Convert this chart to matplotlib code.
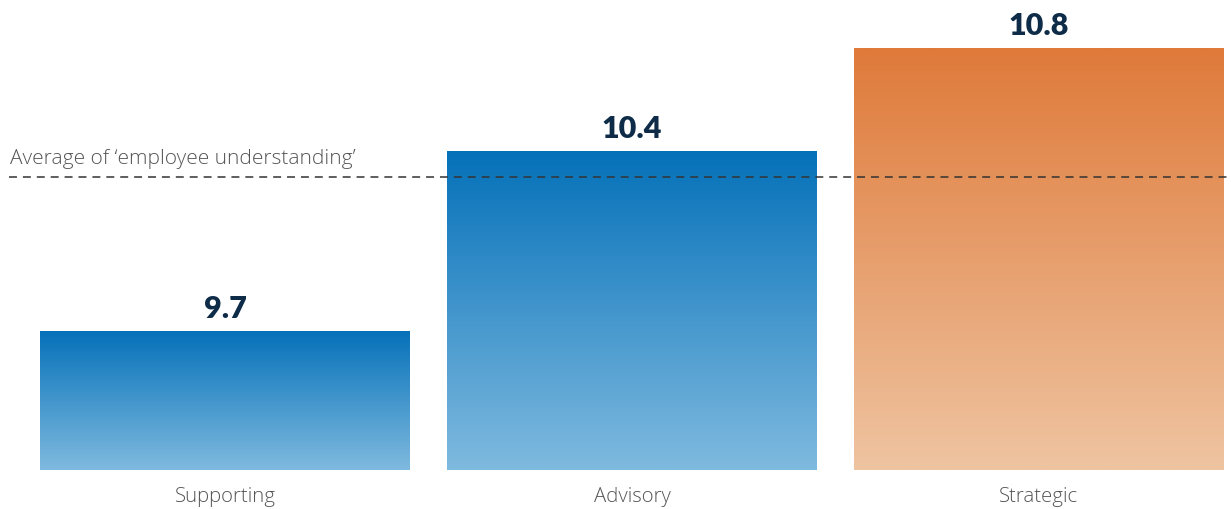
import numpy as np
import matplotlib
matplotlib.use("Agg")
import matplotlib.pyplot as plt
from matplotlib.colors import LinearSegmentedColormap

# data
categories = ["Supporting", "Advisory", "Strategic"]
scores = [9.7, 10.4, 10.8]
average_score = 10.3
average_label = "Average of \u2018employee understanding\u2019"

# gradient colours per bar (top, bottom)
blue_grad = ("#0571b9", "#7fbadf")
orange_grad = ("#df7a3a", "#efc4a1")
bar_grads = [blue_grad, blue_grad, orange_grad]

plt.rcParams['font.family'] = ['Lato', 'DejaVu Sans']
label_font = ['Open Sans', 'DejaVu Sans']

fig = plt.figure(figsize=(12.31, 5.10), dpi=100)
ax = fig.add_axes([0, 39 / 510, 1, 470 / 510])

x = np.arange(len(categories))
bars = ax.bar(x, scores, width=0.909, bottom=0, color="none", zorder=2)

ax.set_xlim(-0.553, 2.472)
ax.set_ylim(9.159, 9.159 + 470 / 257)

# paint a vertical gradient inside each bar
grad = np.linspace(0, 1, 256).reshape(-1, 1)
for bar, (top, bottom) in zip(bars, bar_grads):
    cmap = LinearSegmentedColormap.from_list("g", [top, bottom])
    x0 = bar.get_x()
    w = bar.get_width()
    y0 = ax.get_ylim()[0]
    h = bar.get_height()
    im = ax.imshow(grad, cmap=cmap, aspect="auto",
                   extent=(x0, x0 + w, y0, h), origin="upper", zorder=2)
    im.set_clip_path(bar)

# value labels above bars
for xi, v in zip(x, scores):
    ax.text(xi, v + 0.035, f"{v}", ha="center", va="bottom",
            fontsize=22, fontweight="heavy", color="#0e2c48", zorder=4)

# category labels below the baseline
for xi, c in zip(x, categories):
    ax.text(xi, ax.get_ylim()[0] - 0.1, c, ha="center", va="center",
            fontsize=14.7, fontweight="light", color="#555555",
            family=label_font, clip_on=False)

# average reference line
ax.plot([-0.53, 2.472], [average_score, average_score],
        ls=(0, (5.2, 3.9)), color="#333333", lw=1.1, zorder=3)
ax.text(-0.528, average_score + 0.035, average_label, ha="left",
        va="bottom", fontsize=15, fontweight="light", color="#555555",
        family=label_font)

ax.axis("off")

fig.savefig("out.png", dpi=100)
